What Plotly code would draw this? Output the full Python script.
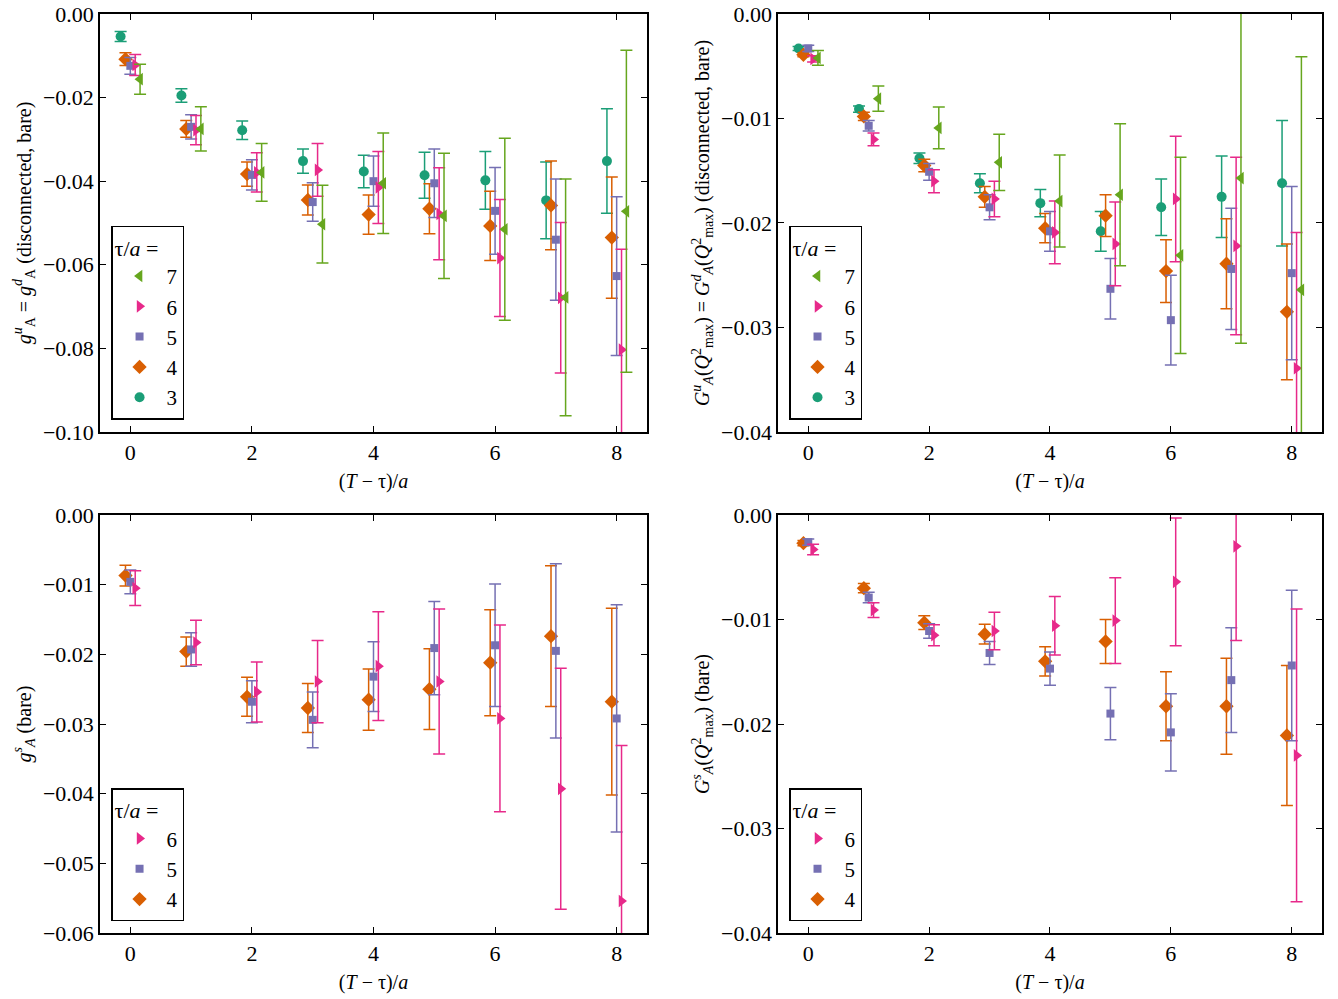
import plotly.graph_objects as go
from plotly.subplots import make_subplots

# (T - tau)/a values, one per point
t_minus_tau = [0, 1, 2, 3, 4, 5, 6, 7, 8]

# top left: g_A^u = g_A^d (disconnected, bare)
ud_g_3 = [-0.0054, -0.0195, -0.0278, -0.0352, -0.0377, -0.0386, -0.0398, -0.0446, -0.0352]
ud_g_3_err = [0.0012, 0.0016, 0.0022, 0.0029, 0.0039, 0.0055, 0.0069, 0.0092, 0.0125]
ud_g_4 = [-0.0108, -0.0275, -0.0383, -0.0445, -0.0480, -0.0466, -0.0507, -0.0458, -0.0535]
ud_g_4_err = [0.0015, 0.0020, 0.0029, 0.0036, 0.0047, 0.0060, 0.0083, 0.0106, 0.0145]
ud_g_5 = [-0.0124, -0.0270, -0.0385, -0.0450, -0.0400, -0.0405, -0.0471, -0.0540, -0.0627]
ud_g_5_err = [0.0020, 0.0029, 0.0036, 0.0046, 0.0060, 0.0082, 0.0104, 0.0145, 0.0190]
ud_g_6 = [-0.0122, -0.0278, -0.0379, -0.0373, -0.0415, -0.0478, -0.0584, -0.0679, -0.0803]
ud_g_6_err = [0.0025, 0.0035, 0.0047, 0.0063, 0.0086, 0.0110, 0.0140, 0.0180, 0.0240]
ud_g_7 = [-0.0156, -0.0275, -0.0379, -0.0503, -0.0405, -0.0483, -0.0515, -0.0678, -0.0472]
ud_g_7_err = [0.0036, 0.0053, 0.0069, 0.0093, 0.0120, 0.0150, 0.0218, 0.0283, 0.0385]

# top right: G_A^u(Q^2_max) = G_A^d(Q^2_max) (disconnected, bare)
ud_G_3 = [-0.0033, -0.0091, -0.0138, -0.0162, -0.0181, -0.0208, -0.0185, -0.0175, -0.0162]
ud_G_3_err = [0.0002, 0.0003, 0.0005, 0.0009, 0.0013, 0.0019, 0.0027, 0.0039, 0.0060]
ud_G_4 = [-0.0039, -0.0098, -0.0145, -0.0175, -0.0205, -0.0193, -0.0246, -0.0239, -0.0285]
ud_G_4_err = [0.0002, 0.0004, 0.0006, 0.0010, 0.0014, 0.0020, 0.0030, 0.0043, 0.0065]
ud_G_5 = [-0.0033, -0.0107, -0.0151, -0.0185, -0.0208, -0.0263, -0.0293, -0.0244, -0.0248]
ud_G_5_err = [0.0003, 0.0005, 0.0008, 0.0012, 0.0019, 0.0029, 0.0043, 0.0058, 0.0083]
ud_G_6 = [-0.0043, -0.0120, -0.0160, -0.0177, -0.0209, -0.0220, -0.0177, -0.0222, -0.0339]
ud_G_6_err = [0.0003, 0.0006, 0.0011, 0.0017, 0.0030, 0.0040, 0.0060, 0.0085, 0.0130]
ud_G_7 = [-0.0042, -0.0081, -0.0109, -0.0142, -0.0179, -0.0173, -0.0231, -0.0157, -0.0264]
ud_G_7_err = [0.0007, 0.0012, 0.0020, 0.0027, 0.0044, 0.0068, 0.0094, 0.0158, 0.0223]

# bottom left: g_A^s (bare)
s_g_4 = [-0.0087, -0.0196, -0.0261, -0.0277, -0.0265, -0.0250, -0.0212, -0.0174, -0.0268]
s_g_4_err = [0.0015, 0.0021, 0.0028, 0.0035, 0.0044, 0.0058, 0.0076, 0.0101, 0.0134]
s_g_5 = [-0.0096, -0.0193, -0.0268, -0.0294, -0.0232, -0.0191, -0.0187, -0.0195, -0.0292]
s_g_5_err = [0.0017, 0.0024, 0.0030, 0.0040, 0.0050, 0.0067, 0.0088, 0.0125, 0.0163]
s_g_6 = [-0.0105, -0.0183, -0.0254, -0.0239, -0.0217, -0.0239, -0.0292, -0.0393, -0.0554]
s_g_6_err = [0.0025, 0.0032, 0.0043, 0.0059, 0.0078, 0.0104, 0.0134, 0.0173, 0.0223]

# bottom right: G_A^s(Q^2_max) (bare)
s_G_4 = [-0.0027, -0.0070, -0.0103, -0.0114, -0.0140, -0.0121, -0.0183, -0.0183, -0.0211]
s_G_4_err = [0.00025, 0.00045, 0.00065, 0.00095, 0.0014, 0.0021, 0.0033, 0.0046, 0.0067]
s_G_5 = [-0.0026, -0.0079, -0.0111, -0.0132, -0.0147, -0.0190, -0.0208, -0.0158, -0.0144]
s_G_5_err = [0.0003, 0.0005, 0.0007, 0.0011, 0.0016, 0.0025, 0.0037, 0.0050, 0.0072]
s_G_6 = [-0.0033, -0.0091, -0.0115, -0.0111, -0.0106, -0.0101, -0.0064, -0.0030, -0.0230]
s_G_6_err = [0.0005, 0.0007, 0.0010, 0.0018, 0.0028, 0.0041, 0.0061, 0.0090, 0.0140]

colors = {3: '#1b9e77', 4: '#d95f02', 5: '#7570b3', 6: '#e7298a', 7: '#66a61e'}
symbols = {3: 'circle', 4: 'diamond', 5: 'square', 6: 'triangle-right', 7: 'triangle-left'}
sizes = {3: 10, 4: 11, 5: 8, 6: 11, 7: 11}

FONT = 'Liberation Serif, Times New Roman, DejaVu Serif, serif'


def add_series(fig, row, col, legend, tau, vals, errs):
	# small horizontal shift per tau so the bars don't overlap
	x = [t + (tau - 5) * 0.08 for t in t_minus_tau]
	fig.add_trace(
		go.Scatter(
			x=x,
			y=vals,
			name=str(tau),
			mode='markers',
			marker=dict(color=colors[tau], symbol=symbols[tau], size=sizes[tau], line=dict(width=0)),
			error_y=dict(type='data', array=errs, color=colors[tau], thickness=1.5, width=6),
			legend=legend,
			showlegend=True),
		row=row, col=col)


def main():
	fig = make_subplots(rows=2, cols=2)

	add_series(fig, 1, 1, 'legend', 3, ud_g_3, ud_g_3_err)
	add_series(fig, 1, 1, 'legend', 4, ud_g_4, ud_g_4_err)
	add_series(fig, 1, 1, 'legend', 5, ud_g_5, ud_g_5_err)
	add_series(fig, 1, 1, 'legend', 6, ud_g_6, ud_g_6_err)
	add_series(fig, 1, 1, 'legend', 7, ud_g_7, ud_g_7_err)

	add_series(fig, 1, 2, 'legend2', 3, ud_G_3, ud_G_3_err)
	add_series(fig, 1, 2, 'legend2', 4, ud_G_4, ud_G_4_err)
	add_series(fig, 1, 2, 'legend2', 5, ud_G_5, ud_G_5_err)
	add_series(fig, 1, 2, 'legend2', 6, ud_G_6, ud_G_6_err)
	add_series(fig, 1, 2, 'legend2', 7, ud_G_7, ud_G_7_err)

	add_series(fig, 2, 1, 'legend3', 4, s_g_4, s_g_4_err)
	add_series(fig, 2, 1, 'legend3', 5, s_g_5, s_g_5_err)
	add_series(fig, 2, 1, 'legend3', 6, s_g_6, s_g_6_err)

	add_series(fig, 2, 2, 'legend4', 4, s_G_4, s_G_4_err)
	add_series(fig, 2, 2, 'legend4', 5, s_G_5, s_G_5_err)
	add_series(fig, 2, 2, 'legend4', 6, s_G_6, s_G_6_err)

	axis_style = dict(
		showline=True, linecolor='black', linewidth=1.5, mirror='ticks',
		ticks='inside', ticklen=6, tickwidth=1, tickcolor='black',
		showgrid=False, zeroline=False, automargin=False,
		tickfont=dict(family=FONT, size=22, color='black'),
		title_font=dict(family=FONT, size=20, color='black'),
	)
	fig.update_xaxes(**axis_style)
	fig.update_yaxes(**axis_style)

	xt = '(<i>T</i> − τ)/<i>a</i>'
	# paper-domain positions, taken from the figure
	left = [0.0747, 0.4836]
	right = [0.5815, 0.9880]
	top = [0.5676, 0.986]
	bottom = [0.066, 0.4845]

	fig.update_xaxes(range=[-0.5, 8.5], tickvals=[0, 2, 4, 6, 8], title_text=xt, title_standoff=10)
	fig.update_xaxes(domain=left, row=1, col=1)
	fig.update_xaxes(domain=right, row=1, col=2)
	fig.update_xaxes(domain=left, row=2, col=1)
	fig.update_xaxes(domain=right, row=2, col=2)

	fig.update_yaxes(tickformat='.2f', title_standoff=6)
	fig.update_yaxes(domain=top, range=[-0.10, 0.0], dtick=0.02, row=1, col=1,
		title_text='<i>g</i><sup><i>u</i></sup><sub>A</sub> = <i>g</i><sup><i>d</i></sup><sub>A</sub> (disconnected, bare)')
	fig.update_yaxes(domain=top, range=[-0.04, 0.0], dtick=0.01, row=1, col=2,
		title_text='<i>G</i><sup><i>u</i></sup><sub><i>A</i></sub>(<i>Q</i><sup>2</sup><sub>max</sub>) = <i>G</i><sup><i>d</i></sup><sub><i>A</i></sub>(<i>Q</i><sup>2</sup><sub>max</sub>) (disconnected, bare)')
	fig.update_yaxes(domain=bottom, range=[-0.06, 0.0], dtick=0.01, row=2, col=1,
		title_text='<i>g</i><sup><i>s</i></sup><sub><i>A</i></sub> (bare)')
	fig.update_yaxes(domain=bottom, range=[-0.04, 0.0], dtick=0.01, row=2, col=2,
		title_text='<i>G</i><sup><i>s</i></sup><sub><i>A</i></sub>(<i>Q</i><sup>2</sup><sub>max</sub>) (bare)')

	legend_style = dict(
		title=dict(text='τ/<i>a</i> = ', font=dict(family=FONT, size=22, color='black')),
		font=dict(family=FONT, size=21, color='black'),
		bordercolor='black', borderwidth=1.5, bgcolor='white',
		traceorder='reversed', xanchor='left', yanchor='top',
		itemwidth=44,
	)

	fig.update_layout(
		width=1338, height=999,
		margin=dict(l=0, r=0, t=0, b=0),
		paper_bgcolor='white', plot_bgcolor='white',
		font=dict(family=FONT, size=20, color='black'),
		legend=dict(x=0.083, y=0.774, **legend_style),
		legend2=dict(x=0.5897, y=0.774, **legend_style),
		legend3=dict(x=0.083, y=0.211, **legend_style),
		legend4=dict(x=0.5897, y=0.211, **legend_style),
	)

	# page body has a default margin, drop it so the figure sits at the corner
	fig.write_html('out.html', config={'displayModeBar': False},
		post_script='document.body.style.margin = "0px";')


if __name__ == "__main__":
	main()
